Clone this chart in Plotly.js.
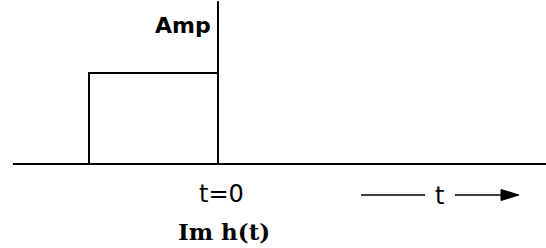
<!DOCTYPE html>
<html><head><meta charset="utf-8">
<script src="https://cdn.plot.ly/plotly-3.0.1.min.js"></script>
<style>html,body{margin:0;padding:0;background:#fff}#c{width:546px;height:248px}</style>
</head><body><div id="c"></div>
<script>
// Data: rectangular pulse of unit amplitude from t = -1 to t = 0
const pulseT = [-1, -1, 0, 0];
const pulseAmp = [0, 1, 1, 0];
// Axes extents (in t / amplitude units)
const axisT = [-1.59, 2.6];
const axisAmpTop = 1.79;
const labels = {amp: "Amp", origin: "t=0", time: "t", caption: "Im h(t)"};

const W = 546, H = 248;
const xr = [-1.69, 2.543];   // x range so t=0 at ~218px
const yr = [-0.923, 1.802];  // y range so amp=0 at ~164px
const px = v => xr[0] + (xr[1] - xr[0]) * v / W;
const py = v => yr[1] - (yr[1] - yr[0]) * v / H;

const traces = [
  {x: [axisT[0], axisT[1]], y: [0, 0], mode: 'lines', line: {color: '#000', width: 2}, hoverinfo: 'skip'},
  {x: [0, 0], y: [0, axisAmpTop], mode: 'lines', line: {color: '#000', width: 2}, hoverinfo: 'skip'},
  {x: pulseT, y: pulseAmp, mode: 'lines', line: {color: '#000', width: 2}, hoverinfo: 'skip'}
];

const head = `M ${px(501)} ${py(189.5)} L ${px(519)} ${py(195)} L ${px(501)} ${py(200.5)} Z`;

const layout = {
  width: W, height: H,
  margin: {l: 0, r: 0, t: 0, b: 0},
  paper_bgcolor: '#fff', plot_bgcolor: '#fff',
  showlegend: false,
  xaxis: {range: xr, visible: false, fixedrange: true},
  yaxis: {range: yr, visible: false, fixedrange: true},
  shapes: [
    {type: 'line', xref: 'x', yref: 'y', x0: px(361), x1: px(425), y0: py(195), y1: py(195), line: {color: '#000', width: 1.6}},
    {type: 'line', xref: 'x', yref: 'y', x0: px(455), x1: px(503), y0: py(195), y1: py(195), line: {color: '#000', width: 1.6}},
    {type: 'path', xref: 'x', yref: 'y', path: head, fillcolor: '#000', line: {color: '#000', width: 1}}
  ],
  annotations: [
    {text: '<b>' + labels.amp + '</b>', x: px(183), y: py(25), xref: 'x', yref: 'y', showarrow: false,
     font: {family: 'DejaVu Sans, sans-serif', size: 22, color: '#000'}},
    {text: labels.origin, x: px(221), y: py(194), xref: 'x', yref: 'y', showarrow: false,
     font: {family: 'DejaVu Sans, sans-serif', size: 24, color: '#000'}},
    {text: '<b>' + labels.caption + '</b>', x: px(224), y: py(231), xref: 'x', yref: 'y', showarrow: false,
     font: {family: 'DejaVu Serif, serif', size: 23, color: '#000'}},
    {text: labels.time, x: px(439), y: py(196), xref: 'x', yref: 'y', showarrow: false,
     font: {family: 'DejaVu Sans, sans-serif', size: 24, color: '#000'}}
  ]
};

Plotly.newPlot('c', traces, layout, {displayModeBar: false, staticPlot: true});
</script>
</body></html>
